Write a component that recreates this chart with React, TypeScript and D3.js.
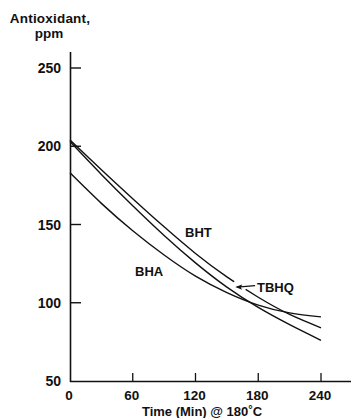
import React from 'react';
import * as d3 from 'd3';

// minutes at 180°C
const times = [0, 30, 60, 90, 120, 150, 180, 210, 240];
// antioxidant remaining, ppm
const bht = [204, 185, 166.5, 148.5, 131.5, 116.5, 103.5, 92.5, 84];
const tbhq = [203, 182, 162, 143, 125.5, 110, 97, 86, 76];
const bha = [183, 163.5, 146, 130.5, 117, 106.5, 98.5, 93.5, 91];

const xTicks = [0, 60, 120, 180, 240];
const yTicks = [50, 100, 150, 200, 250];

const W = 351;
const H = 418;
const FONT = '"Liberation Sans", Arial, Helvetica, sans-serif';

export default function App() {
  const x = d3.scaleLinear().domain([0, 240]).range([70, 321]);
  const y = d3.scaleLinear().domain([50, 250]).range([381, 68]);

  const line = d3.line<[number, number]>()
    .x(d => x(d[0]))
    .y(d => y(d[1]))
    .curve(d3.curveNatural);

  const series = [bht, tbhq, bha].map(vals => times.map((t, i) => [t, vals[i]] as [number, number]));

  // bht value at a given minute, for the break where the TBHQ pointer crosses it
  const bhtAt = (t: number) => d3.scaleLinear().domain(times).range(bht)(t);
  const gap0 = 157, gap1 = 168;

  const lbl = { fontFamily: FONT, fontWeight: 'bold' as const, fill: '#111' };

  return (
    <svg width={W} height={H} style={{ position: 'absolute', left: 0, top: 0, background: '#fff' }}>
      {/* axis title */}
      <text x={50} y={22.5} textAnchor="middle" fontSize={13.5} letterSpacing={0.2} {...lbl}>Antioxidant,</text>
      <text x={49} y={37.5} textAnchor="middle" fontSize={13.5} {...lbl}>ppm</text>

      {/* y axis */}
      <line x1={70.5} x2={70.5} y1={52} y2={382} stroke="#111" strokeWidth={1.6} />
      {yTicks.map(v => (
        <g key={v}>
          {v !== 50 && <line x1={70} x2={81} y1={y(v)} y2={y(v)} stroke="#111" strokeWidth={1.4} />}
          <text x={61} y={y(v) + 5} textAnchor="end" fontSize={14} {...lbl}>{v}</text>
        </g>
      ))}

      {/* x axis */}
      <line x1={70} x2={351} y1={381.5} y2={381.5} stroke="#111" strokeWidth={1.6} />
      {xTicks.map(t => (
        <g key={t}>
          {t !== 0 && <line x1={x(t)} x2={x(t)} y1={381} y2={373} stroke="#111" strokeWidth={1.3} />}
          <text x={x(t) - 1} y={400} textAnchor="middle" fontSize={13.5} {...lbl}>{t}</text>
        </g>
      ))}
      <text x={202} y={416} textAnchor="middle" fontSize={13} {...lbl}>
        Time (Min) @ 180<tspan fontSize={11} dy={-3}>°</tspan><tspan dy={3}>C</tspan>
      </text>

      {/* curves */}
      {series.map((s, i) => (
        <path key={i} d={line(s) || ''} fill="none" stroke="#111" strokeWidth={1.4} />
      ))}
      <line x1={x(gap0)} y1={y(bhtAt(gap0))} x2={x(gap1)} y2={y(bhtAt(gap1))} stroke="#fff" strokeWidth={3} />

      {/* labels */}
      <text x={185} y={237} fontSize={13} {...lbl}>BHT</text>
      <text x={135} y={276} fontSize={13} {...lbl}>BHA</text>
      <text x={257} y={292} fontSize={13} {...lbl}>TBHQ</text>
      <line x1={x(177)} y1={y(111)} x2={x(160)} y2={y(110)} stroke="#111" strokeWidth={1.3} />
      <path
        d={`M${x(158)},${y(110)} l7,-2.5 l-1.5,2.8 l1.5,2.4 z`}
        fill="#111"
      />
    </svg>
  );
}
